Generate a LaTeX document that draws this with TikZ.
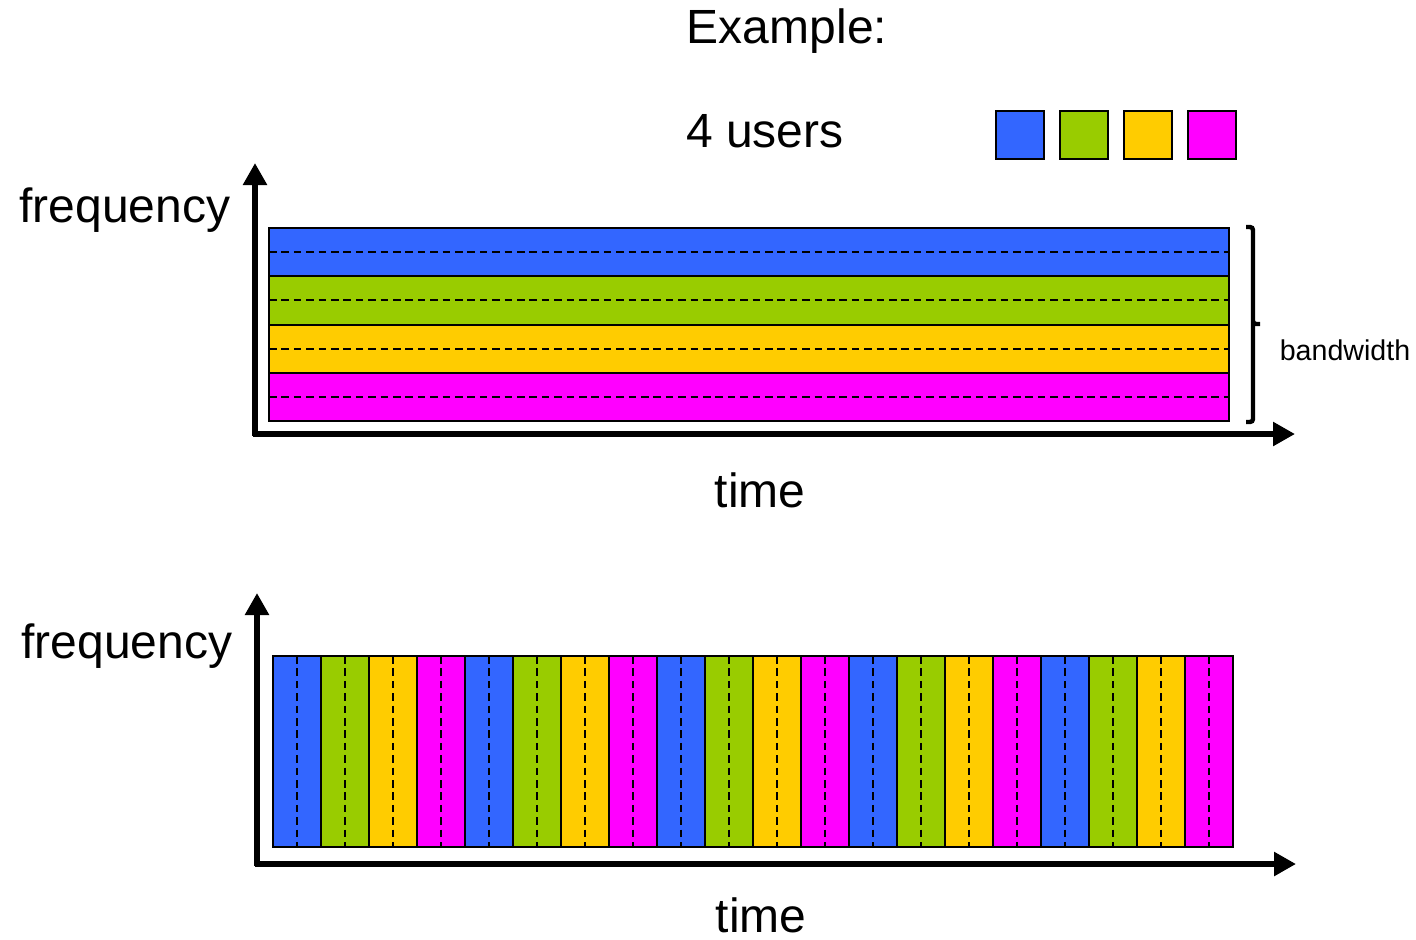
\documentclass[tikz,border=0pt]{standalone}
\usepackage{fontspec}
\setmainfont{Liberation Sans}
\usetikzlibrary{arrows.meta}
\definecolor{ublue}{HTML}{3366FF}
\definecolor{ugreen}{HTML}{99CC00}
\definecolor{uyellow}{HTML}{FFCC00}
\definecolor{umag}{HTML}{FF00FF}
\begin{document}
\begin{tikzpicture}[x=0.5pt,y=-0.5pt,
  big/.style={font=\fontsize{24}{28}\selectfont, inner sep=0pt},
  small/.style={font=\fontsize{14.3}{17}\selectfont, inner sep=0pt},
  axis/.style={line width=3pt, -{Triangle[length=11pt,width=11.5pt]}},
  band/.style={draw=black, line width=1pt},
  mid/.style={dash pattern=on 3.8pt off 2.4pt, line width=1pt},
  legend/.style={draw=black, line width=1pt, minimum size=24pt, inner sep=0pt}]
\useasboundingbox (0,0) rectangle (1416,939);

% texts
\node[big] (ex) at (787,31) {Example:};
\node[big] (users) at (765,131) {4 users};
\node[big] (f1) at (125,210) {frequency};
\node[big] (t1) at (760,490) {time};
\node[big] (f2) at (127,646) {frequency};
\node[big] (t2) at (761,915) {time};
\node[small] (bw) at (1345,350) {bandwidth};

% legend
\node[legend, fill=ublue] (l1) at (1020,135) {};
\node[legend, fill=ugreen] (l2) at (1084,135) {};
\node[legend, fill=uyellow] (l3) at (1148,135) {};
\node[legend, fill=umag] (l4) at (1212,135) {};

% top: frequency division
\foreach \j/\c in {0/ublue,1/ugreen,2/uyellow,3/umag}{
  \pgfmathsetmacro{\ya}{228+48.25*\j}
  \pgfmathsetmacro{\yb}{228+48.25*(\j+1)}
  \pgfmathsetmacro{\ym}{228+48.25*(\j+0.5)}
  \fill[\c] (269,\ya) rectangle (1229,\yb);
  \draw[mid] (269,\ym) -- (1229,\ym);
}
\foreach \j in {1,2,3}{
  \pgfmathsetmacro{\ya}{228+48.25*\j}
  \draw[line width=1pt] (269,\ya) -- (1229,\ya);
}
\draw[band] (269,228) rectangle (1229,421);

% bracket
\draw[line width=2.2pt, rounded corners=1.5pt] (1246,227) -| (1253,324) -- (1260,324);
\draw[line width=2.2pt, rounded corners=1.5pt] (1253,322) |- (1246,422);

% top axes
\coordinate (y1) at (255,163);
\coordinate (x1) at (1295,434);
\draw[axis] (255,436) -- (y1);
\draw[axis] (253,434) -- (x1);

% bottom: time division
\foreach \k in {0,...,4}{
  \foreach \j/\c in {0/ublue,1/ugreen,2/uyellow,3/umag}{
    \pgfmathsetmacro{\xa}{273+48*(4*\k+\j)}
    \pgfmathsetmacro{\xb}{273+48*(4*\k+\j+1)}
    \pgfmathsetmacro{\xm}{273+48*(4*\k+\j+0.5)}
    \fill[\c] (\xa,656) rectangle (\xb,847);
    \draw[mid] (\xm,656) -- (\xm,847);
    \draw[line width=1pt] (\xa,656) -- (\xa,847);
  }
}
\draw[band] (273,656) rectangle (1233,847);

% bottom axes
\coordinate (y2) at (257,593);
\coordinate (x2) at (1296,864);
\draw[axis] (257,866) -- (y2);
\draw[axis] (255,864) -- (x2);
\end{tikzpicture}
\end{document}
